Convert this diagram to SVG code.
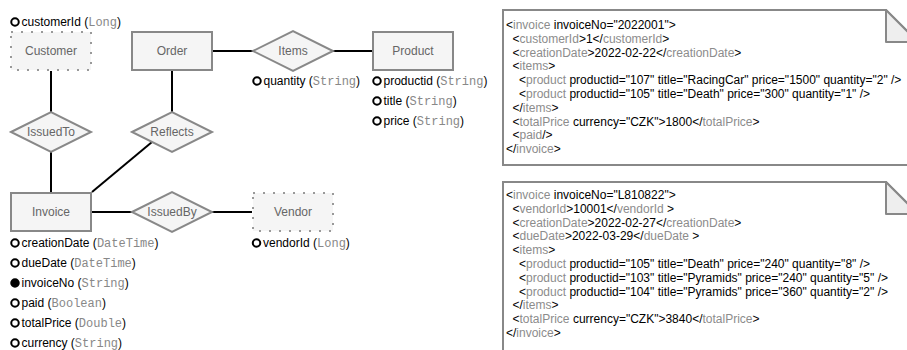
<svg xmlns="http://www.w3.org/2000/svg" width="907" height="350" viewBox="0 0 907 350">
  <style>
    text { font-family: "Liberation Sans", Arial, Helvetica, sans-serif; font-size: 12px; fill: #000; }
    .entity { fill: #f5f5f5; stroke: #888; stroke-width: 2; }
    .weak { fill: #f5f5f5; stroke: #999; stroke-width: 2; stroke-dasharray: 2 8; }
    .rel { fill: #f5f5f5; stroke: #888; stroke-width: 2; }
    .label { fill: #666; text-anchor: middle; }
    .edge { stroke: #000; stroke-width: 2; fill: none; }
    .key { fill: #fff; stroke: #000; stroke-width: 2; }
    .key.id { fill: #000; }
    .type { font-family: "Liberation Mono", "Courier New", monospace; fill: #888; }
    .note { fill: #fff; stroke: #888; stroke-width: 2; }
    .fold { fill: #eee; stroke: #888; stroke-width: 2; stroke-linejoin: round; }
    .tag { fill: #8c8c8c; }
  </style>

  <!-- relationship lines -->
  <g id="connectors">
    <line class="edge" x1="51" y1="71" x2="51" y2="112"/>
    <line class="edge" x1="51" y1="152" x2="51" y2="192"/>
    <line class="edge" x1="172" y1="71" x2="172" y2="112"/>
    <line class="edge" x1="152" y1="142" x2="92" y2="192"/>
    <line class="edge" x1="212" y1="51" x2="253" y2="51"/>
    <line class="edge" x1="333" y1="51" x2="372" y2="51"/>
    <line class="edge" x1="92" y1="212" x2="132" y2="212"/>
    <line class="edge" x1="212" y1="212" x2="252" y2="212"/>
  </g>

  <!-- entities -->
  <g id="customer">
    <rect class="weak" x="11" y="32" width="80" height="38"/>
    <text class="label" x="51" y="55">Customer</text>
    <circle class="key" cx="15" cy="22" r="3.75"/>
    <text x="21.5" y="26">customerId (<tspan class="type">Long</tspan>)</text>
  </g>

  <g id="order">
    <rect class="entity" x="132" y="32" width="80" height="38"/>
    <text class="label" x="172" y="55">Order</text>
  </g>

  <g id="product">
    <rect class="entity" x="373" y="32" width="80" height="38"/>
    <text class="label" x="413" y="55">Product</text>
    <circle class="key" cx="377" cy="81" r="3.75"/>
    <text x="383.5" y="85">productid (<tspan class="type">String</tspan>)</text>
    <circle class="key" cx="377" cy="101" r="3.75"/>
    <text x="383.5" y="105">title (<tspan class="type">String</tspan>)</text>
    <circle class="key" cx="377" cy="121" r="3.75"/>
    <text x="383.5" y="125">price (<tspan class="type">String</tspan>)</text>
  </g>

  <g id="invoice">
    <rect class="entity" x="11" y="193" width="80" height="38"/>
    <text class="label" x="51" y="216">Invoice</text>
    <circle class="key" cx="15" cy="243" r="3.75"/>
    <text x="21.5" y="247">creationDate (<tspan class="type">DateTime</tspan>)</text>
    <circle class="key" cx="15" cy="263" r="3.75"/>
    <text x="21.5" y="267">dueDate (<tspan class="type">DateTime</tspan>)</text>
    <circle class="key id" cx="15" cy="283" r="3.75"/>
    <text x="21.5" y="287">invoiceNo (<tspan class="type">String</tspan>)</text>
    <circle class="key" cx="15" cy="303" r="3.75"/>
    <text x="21.5" y="307">paid (<tspan class="type">Boolean</tspan>)</text>
    <circle class="key" cx="15" cy="323" r="3.75"/>
    <text x="21.5" y="327">totalPrice (<tspan class="type">Double</tspan>)</text>
    <circle class="key" cx="15" cy="343" r="3.75"/>
    <text x="21.5" y="347">currency (<tspan class="type">String</tspan>)</text>
  </g>

  <g id="vendor">
    <rect class="weak" x="253" y="193" width="80" height="38"/>
    <text class="label" x="293" y="216">Vendor</text>
    <circle class="key" cx="256.5" cy="243" r="3.75"/>
    <text x="263" y="247">vendorId (<tspan class="type">Long</tspan>)</text>
  </g>

  <!-- relationships -->
  <g id="issuedTo">
    <polygon class="rel" points="11,132 51,112 91,132 51,152"/>
    <text class="label" x="51" y="136">IssuedTo</text>
  </g>

  <g id="reflects">
    <polygon class="rel" points="132,132 172,112 212,132 172,152"/>
    <text class="label" x="172" y="136">Reflects</text>
  </g>

  <g id="items">
    <polygon class="rel" points="253,51 293,31 333,51 293,71"/>
    <text class="label" x="293" y="55">Items</text>
    <circle class="key" cx="257" cy="81" r="3.75"/>
    <text x="263.5" y="85">quantity (<tspan class="type">String</tspan>)</text>
  </g>

  <g id="issuedBy">
    <polygon class="rel" points="132,212 172,192 212,212 172,232"/>
    <text class="label" x="172" y="216">IssuedBy</text>
  </g>

  <!-- sample document: invoice 2022001 -->
  <g id="note-2022001">
    <path class="note" d="M503,10 H886 L918,42 V165 H503 Z"/>
    <path class="fold" d="M886,10 V42 H918 Z"/>
    <text x="506" y="29">&lt;<tspan class="tag">invoice</tspan> invoiceNo="2022001"&gt;</text>
    <text x="512.5" y="42.8">&lt;<tspan class="tag">customerId</tspan>&gt;1&lt;/<tspan class="tag">customerId</tspan>&gt;</text>
    <text x="512.5" y="56.6">&lt;<tspan class="tag">creationDate</tspan>&gt;2022-02-22&lt;/<tspan class="tag">creationDate</tspan>&gt;</text>
    <text x="512.5" y="70.4">&lt;<tspan class="tag">items</tspan>&gt;</text>
    <text x="519" y="84.2">&lt;<tspan class="tag">product</tspan> productid="107" title="RacingCar" price="1500" quantity="2" /&gt;</text>
    <text x="519" y="98">&lt;<tspan class="tag">product</tspan> productid="105" title="Death" price="300" quantity="1" /&gt;</text>
    <text x="512.5" y="111.8">&lt;/<tspan class="tag">items</tspan>&gt;</text>
    <text x="512.5" y="125.6">&lt;<tspan class="tag">totalPrice</tspan> currency="CZK"&gt;1800&lt;/<tspan class="tag">totalPrice</tspan>&gt;</text>
    <text x="512.5" y="139.4">&lt;<tspan class="tag">paid</tspan>/&gt;</text>
    <text x="506" y="153.2">&lt;/<tspan class="tag">invoice</tspan>&gt;</text>
  </g>

  <!-- sample document: invoice L810822 -->
  <g id="note-L810822">
    <path class="note" d="M503,182 H886 L918,214 V360 H503 Z"/>
    <path class="fold" d="M886,182 V214 H918 Z"/>
    <text x="506" y="199">&lt;<tspan class="tag">invoice</tspan> invoiceNo="L810822"&gt;</text>
    <text x="512.5" y="212.8">&lt;<tspan class="tag">vendorId</tspan>&gt;10001&lt;/<tspan class="tag">vendorId</tspan> &gt;</text>
    <text x="512.5" y="226.6">&lt;<tspan class="tag">creationDate</tspan>&gt;2022-02-27&lt;/<tspan class="tag">creationDate</tspan>&gt;</text>
    <text x="512.5" y="240.4">&lt;<tspan class="tag">dueDate</tspan>&gt;2022-03-29&lt;/<tspan class="tag">dueDate</tspan> &gt;</text>
    <text x="512.5" y="254.2">&lt;<tspan class="tag">items</tspan>&gt;</text>
    <text x="519" y="268">&lt;<tspan class="tag">product</tspan> productid="105" title="Death" price="240" quantity="8" /&gt;</text>
    <text x="519" y="281.8">&lt;<tspan class="tag">product</tspan> productid="103" title="Pyramids" price="240" quantity="5" /&gt;</text>
    <text x="519" y="295.6">&lt;<tspan class="tag">product</tspan> productid="104" title="Pyramids" price="360" quantity="2" /&gt;</text>
    <text x="512.5" y="309.4">&lt;/<tspan class="tag">items</tspan>&gt;</text>
    <text x="512.5" y="323.2">&lt;<tspan class="tag">totalPrice</tspan> currency="CZK"&gt;3840&lt;/<tspan class="tag">totalPrice</tspan>&gt;</text>
    <text x="506" y="337">&lt;/<tspan class="tag">invoice</tspan>&gt;</text>
  </g>
</svg>
